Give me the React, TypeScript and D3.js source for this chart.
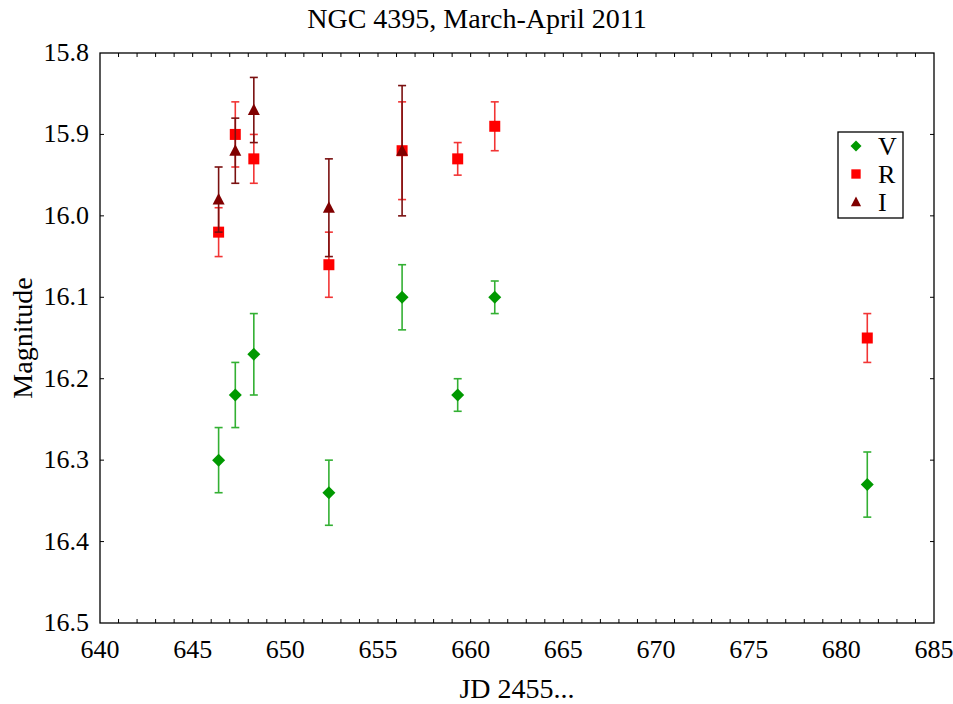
import React, { useEffect, useRef } from "react";
import * as d3 from "d3";

// observation dates (JD 2455...)
const vDays = [646.4, 647.3, 648.3, 652.35, 656.3, 659.3, 661.3, 681.4];
const vMag = [16.3, 16.22, 16.17, 16.34, 16.1, 16.22, 16.1, 16.33];
const vErr = [0.04, 0.04, 0.05, 0.04, 0.04, 0.02, 0.02, 0.04];

const rDays = [646.4, 647.3, 648.3, 652.35, 656.3, 659.3, 661.3, 681.4];
const rMag = [16.02, 15.9, 15.93, 16.06, 15.92, 15.93, 15.89, 16.15];
const rErr = [0.03, 0.04, 0.03, 0.04, 0.06, 0.02, 0.03, 0.03];

const iDays = [646.4, 647.3, 648.3, 652.35, 656.3];
const iMag = [15.98, 15.92, 15.87, 15.99, 15.92];
const iErr = [0.04, 0.04, 0.04, 0.06, 0.08];

const xTicks = [640, 645, 650, 655, 660, 665, 670, 675, 680, 685];
const yTicks = [15.8, 15.9, 16.0, 16.1, 16.2, 16.3, 16.4, 16.5];

const W = 953;
const H = 704;
const FONT = "'Liberation Serif', 'Times New Roman', serif";

type Series = {
  name: string;
  days: number[];
  mag: number[];
  err: number[];
  fill: string;
  bar: string;
  shape: "diamond" | "square" | "triangle";
};

const series: Series[] = [
  { name: "V", days: vDays, mag: vMag, err: vErr, fill: "#009900", bar: "#33b033", shape: "diamond" },
  { name: "R", days: rDays, mag: rMag, err: rErr, fill: "#ff0000", bar: "#f23535", shape: "square" },
  { name: "I", days: iDays, mag: iMag, err: iErr, fill: "#800000", bar: "#7a1010", shape: "triangle" },
];

function markerPath(shape: string) {
  if (shape === "diamond") return "M0,-6.5L6.5,0L0,6.5L-6.5,0Z";
  if (shape === "square") return "M-5.5,-5.5H5.5V5.5H-5.5Z";
  return "M0,-6.5L6,5L-6,5Z";
}

export default function App() {
  const svgRef = useRef<SVGSVGElement | null>(null);

  useEffect(() => {
    if (!svgRef.current) return;
    const svgEl = d3.select(svgRef.current);
    svgEl.selectAll("*").remove();

    const margin = { top: 53, right: 19, bottom: 81, left: 100 };
    const innerWidth = W - margin.left - margin.right;
    const innerHeight = H - margin.top - margin.bottom;

    const x = d3.scaleLinear().domain([640, 685]).range([0, innerWidth]);
    const y = d3.scaleLinear().domain([15.8, 16.5]).range([0, innerHeight]);

    const svg = svgEl
      .append("g")
      .attr("transform", `translate(${margin.left},${margin.top})`);

    // title
    svgEl
      .append("text")
      .attr("x", 477)
      .attr("y", 28)
      .attr("text-anchor", "middle")
      .attr("font-family", FONT)
      .attr("font-size", 28)
      .text("NGC 4395, March-April 2011");

    // frame
    svg
      .append("rect")
      .attr("width", innerWidth)
      .attr("height", innerHeight)
      .attr("fill", "none")
      .attr("stroke", "#000")
      .attr("stroke-width", 1.3);

    const minor = d3.range(641, 685, 1);
    const tickLen = 4;

    // x ticks bottom and top (inside)
    svg
      .selectAll(".xt")
      .data(minor)
      .enter()
      .append("line")
      .attr("x1", (d) => x(d))
      .attr("x2", (d) => x(d))
      .attr("y1", innerHeight)
      .attr("y2", innerHeight - tickLen)
      .attr("stroke", "#000");
    svg
      .selectAll(".xtt")
      .data(minor)
      .enter()
      .append("line")
      .attr("x1", (d) => x(d))
      .attr("x2", (d) => x(d))
      .attr("y1", 0)
      .attr("y2", tickLen)
      .attr("stroke", "#000");

    // y ticks left and right
    svg
      .selectAll(".yt")
      .data(yTicks.slice(1, -1))
      .enter()
      .append("line")
      .attr("x1", 0)
      .attr("x2", tickLen)
      .attr("y1", (d) => y(d))
      .attr("y2", (d) => y(d))
      .attr("stroke", "#000");
    svg
      .selectAll(".ytr")
      .data(yTicks.slice(1, -1))
      .enter()
      .append("line")
      .attr("x1", innerWidth)
      .attr("x2", innerWidth - tickLen)
      .attr("y1", (d) => y(d))
      .attr("y2", (d) => y(d))
      .attr("stroke", "#000");

    // tick labels
    svg
      .selectAll(".xl")
      .data(xTicks)
      .enter()
      .append("text")
      .attr("x", (d) => x(d))
      .attr("y", innerHeight + 35)
      .attr("text-anchor", "middle")
      .attr("font-family", FONT)
      .attr("font-size", 26)
      .text((d) => String(d));

    svg
      .selectAll(".yl")
      .data(yTicks)
      .enter()
      .append("text")
      .attr("x", -11)
      .attr("y", (d) => y(d) + 8)
      .attr("text-anchor", "end")
      .attr("font-family", FONT)
      .attr("font-size", 26)
      .text((d) => d3.format(".1f")(d));

    // axis titles
    svgEl
      .append("text")
      .attr("x", margin.left + innerWidth / 2)
      .attr("y", 698)
      .attr("text-anchor", "middle")
      .attr("font-family", FONT)
      .attr("font-size", 28)
      .text("JD 2455...");

    svgEl
      .append("text")
      .attr("transform", `translate(32,${margin.top + innerHeight / 2}) rotate(-90)`)
      .attr("text-anchor", "middle")
      .attr("font-family", FONT)
      .attr("font-size", 28)
      .text("Magnitude");

    // error bars + markers
    const cap = 4;
    series.forEach((s) => {
      const pts = s.days.map((d, i) => ({ d, m: s.mag[i], e: s.err[i] }));
      const g = svg.append("g");
      pts.forEach((p) => {
        const cx = x(p.d);
        const y0 = y(p.m - p.e);
        const y1 = y(p.m + p.e);
        g.append("line")
          .attr("x1", cx).attr("x2", cx)
          .attr("y1", y0).attr("y2", y1)
          .attr("stroke", s.bar).attr("stroke-width", 1.6);
        [y0, y1].forEach((yy) => {
          g.append("line")
            .attr("x1", cx - cap).attr("x2", cx + cap)
            .attr("y1", yy).attr("y2", yy)
            .attr("stroke", s.bar).attr("stroke-width", 1.6);
        });
      });
      g.selectAll("path")
        .data(pts)
        .enter()
        .append("path")
        .attr("d", markerPath(s.shape))
        .attr("transform", (p) => `translate(${x(p.d)},${y(p.m)})`)
        .attr("fill", s.fill);
    });

    // legend
    const lg = svgEl.append("g").attr("transform", "translate(838,132)");
    lg.append("rect")
      .attr("width", 65)
      .attr("height", 86)
      .attr("fill", "#fff")
      .attr("stroke", "#000")
      .attr("stroke-width", 1.3);
    series.forEach((s, i) => {
      const yy = 14 + i * 28;
      lg.append("path")
        .attr("d", markerPath(s.shape))
        .attr("transform", `translate(18,${yy}) scale(0.85)`)
        .attr("fill", s.fill);
      lg.append("text")
        .attr("x", 40)
        .attr("y", yy + 9)
        .attr("font-family", FONT)
        .attr("font-size", 26)
        .text(s.name);
    });
  }, []);

  return (
    <svg
      ref={svgRef}
      width={W}
      height={H}
      style={{ position: "absolute", left: 0, top: 0, background: "#fff" }}
    />
  );
}
